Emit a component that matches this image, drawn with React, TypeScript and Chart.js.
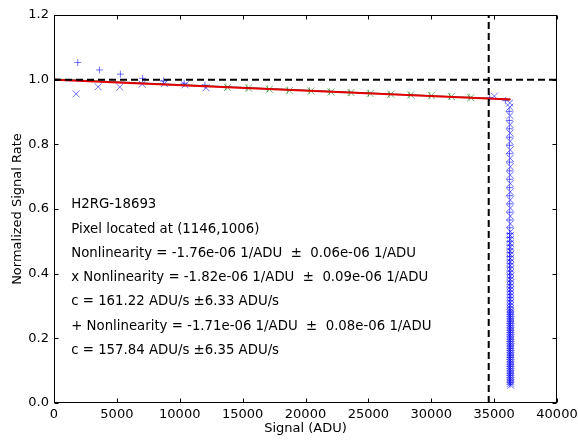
import { useEffect, useRef } from 'react';
import { Chart, registerables } from 'chart.js';
Chart.register(...registerables);

// ---- data ----
const xTicks = [0, 5000, 10000, 15000, 20000, 25000, 30000, 35000, 40000];
const yTicks = [0, 0.2, 0.4, 0.6, 0.8, 1.0, 1.2];

// 'x' marker series (signal ADU, normalized rate) before saturation
const xSignal = [1760, 3510, 5230, 7010, 8780, 10420, 12090, 13800, 15470, 17120, 18710, 20430, 22020, 23610, 25140, 26780, 28370, 30010, 31600, 33140, 35020, 36240];
const xRate = [0.956, 0.978, 0.977, 0.986, 0.988, 0.984, 0.975, 0.976, 0.974, 0.970, 0.966, 0.965, 0.962, 0.960, 0.957, 0.955, 0.953, 0.951, 0.948, 0.944, 0.949, 0.928];

// '+' marker series before saturation
const pSignal = [1890, 3610, 5280, 7050, 8700, 10350, 12000, 13670, 15340, 16990, 18580, 20300, 21890, 23480, 25010, 26650, 28240, 29880, 31470, 33010, 34650, 35900];
const pRate = [1.053, 1.030, 1.017, 1.004, 0.996, 0.989, 0.983, 0.978, 0.975, 0.972, 0.968, 0.966, 0.963, 0.960, 0.958, 0.955, 0.953, 0.951, 0.948, 0.946, 0.945, 0.935];

// saturated column ('x' markers)
const xSatSignal = [36250, 36260, 36265, 36270, 36270, 36275, 36275, 36280, 36280, 36280, 36285, 36285, 36285, 36290, 36290,
  36290, 36290, 36295, 36295, 36295, 36295, 36300, 36300, 36300, 36300, 36300, 36300, 36305, 36305, 36305, 36305, 36305, 36305, 36305, 36305, 36305, 36305,
  36305, 36305, 36305, 36310, 36310, 36310, 36310, 36310, 36310, 36310, 36310, 36310, 36310, 36310, 36310, 36310, 36310, 36310, 36310, 36310, 36310, 36310, 36310, 36310, 36310, 36310, 36310, 36310, 36310, 36310, 36310, 36310, 36310, 36310, 36310];
const xSatRate = [0.915, 0.889, 0.861, 0.835, 0.809, 0.783, 0.757, 0.731, 0.705, 0.679, 0.653, 0.628, 0.603, 0.578, 0.554,
  0.530, 0.518, 0.506, 0.494, 0.482, 0.470, 0.459, 0.447, 0.436, 0.425, 0.414, 0.403, 0.392, 0.382, 0.371, 0.361, 0.351, 0.341, 0.331, 0.321, 0.311, 0.302,
  0.292, 0.285, 0.278, 0.271, 0.264, 0.257, 0.250, 0.243, 0.236, 0.229, 0.222, 0.215, 0.208, 0.201, 0.194, 0.187, 0.180, 0.173, 0.166, 0.159, 0.152, 0.145, 0.138, 0.131, 0.124, 0.117, 0.110, 0.103, 0.096, 0.089, 0.082, 0.075, 0.068, 0.061, 0.055];

// saturated column ('+' markers)
const pSatSignal = [36200, 36210, 36215, 36220, 36220, 36225, 36225, 36230, 36230, 36230, 36235, 36235, 36235, 36240, 36240,
  36240, 36240, 36245, 36245, 36245, 36245, 36250, 36250, 36250, 36250, 36250, 36250, 36255, 36255, 36255, 36255, 36255, 36255, 36255, 36255, 36255, 36255,
  36255, 36255, 36260, 36260, 36260, 36260, 36260, 36260, 36260, 36260, 36260, 36260, 36260, 36260, 36260, 36260, 36260, 36260, 36260, 36260, 36260, 36260, 36260, 36260, 36260, 36260, 36260, 36260, 36260, 36260, 36260, 36260, 36260, 36260];
const pSatRate = [0.902, 0.874, 0.848, 0.822, 0.797, 0.771, 0.745, 0.718, 0.692, 0.666, 0.641, 0.616, 0.590, 0.566, 0.542,
  0.524, 0.512, 0.500, 0.488, 0.476, 0.465, 0.453, 0.442, 0.431, 0.420, 0.408, 0.398, 0.387, 0.377, 0.366, 0.356, 0.346, 0.336, 0.326, 0.316, 0.306, 0.297,
  0.288, 0.281, 0.274, 0.267, 0.260, 0.253, 0.246, 0.239, 0.232, 0.225, 0.218, 0.211, 0.204, 0.197, 0.190, 0.183, 0.176, 0.169, 0.162, 0.155, 0.148, 0.141, 0.134, 0.127, 0.120, 0.113, 0.106, 0.099, 0.092, 0.085, 0.078, 0.071, 0.064, 0.058];

// fit range and lines
const fitMin = 13000;
const saturationSignal = 34570;
const redFitSignal = [0, 36300];
const redFitRate = [1.0, 0.939];
const darkFitSignal = [0, 36300];
const darkFitRate = [1.002, 0.9395];

const annotationLines = [
  'H2RG-18693',
  'Pixel located at (1146,1006)',
  'Nonlinearity = -1.76e-06 1/ADU  \u00b1  0.06e-06 1/ADU',
  'x Nonlinearity = -1.82e-06 1/ADU  \u00b1  0.09e-06 1/ADU',
  'c = 161.22 ADU/s \u00b16.33 ADU/s',
  '+ Nonlinearity = -1.71e-06 1/ADU  \u00b1  0.08e-06 1/ADU',
  'c = 157.84 ADU/s \u00b16.35 ADU/s',
];
const annotationY = [0.613, 0.538, 0.463, 0.388, 0.313, 0.238, 0.163];
const annotationX = 1370;

const BLUE = 'rgba(0,0,255,0.55)';
const BLUE_SAT = 'rgba(0,0,255,0.6)';
const GREEN = 'rgba(0,128,0,0.55)';
const FONT = '"DejaVu Sans", sans-serif';

function pts(xs: number[], ys: number[]) {
  return xs.map((x, i) => ({ x, y: ys[i] }));
}
function colorsFor(xs: number[]) {
  return xs.map((x) => (x >= fitMin && x <= saturationSignal ? GREEN : BLUE));
}

const framePlugin = {
  id: 'frameTicksText',
  afterDraw(chart: any) {
    const { ctx, chartArea: a, scales } = chart;
    ctx.save();
    ctx.strokeStyle = '#000';
    ctx.lineWidth = 1;
    const L = Math.round(a.left) + 0.5;
    const R = Math.round(a.right) - 0.5;
    const T = Math.round(a.top) + 0.5;
    const B = Math.round(a.bottom) - 0.5;
    ctx.strokeRect(L, T, R - L, B - T);
    ctx.beginPath();
    for (const t of xTicks) {
      const px = Math.round(scales.x.getPixelForValue(t)) + 0.5;
      ctx.moveTo(px, B); ctx.lineTo(px, B - 4);
      ctx.moveTo(px, T); ctx.lineTo(px, T + 4);
    }
    for (const t of yTicks) {
      const py = Math.round(scales.y.getPixelForValue(t)) + 0.5;
      ctx.moveTo(L, py); ctx.lineTo(L + 4, py);
      ctx.moveTo(R, py); ctx.lineTo(R - 4, py);
    }
    ctx.stroke();
    ctx.fillStyle = '#000';
    ctx.font = '13.3px ' + FONT;
    ctx.textBaseline = 'middle';
    ctx.textAlign = 'left';
    const tx = scales.x.getPixelForValue(annotationX);
    annotationLines.forEach((s, i) => {
      ctx.fillText(s, tx, scales.y.getPixelForValue(annotationY[i]));
    });
    ctx.restore();
  },
};

export default function App() {
  const ref = useRef<HTMLCanvasElement>(null);
  useEffect(() => {
    Chart.defaults.font.family = FONT;
    Chart.defaults.font.size = 13;
    Chart.defaults.color = '#000';
    const chart = new Chart(ref.current!, {
      type: 'scatter',
      data: {
        datasets: [
          {
            type: 'line', label: 'h', data: [{ x: 0, y: 1 }, { x: 40000, y: 1 }],
            borderColor: '#000', borderWidth: 2, borderDash: [7, 4], pointRadius: 0, order: 1,
          } as any,
          {
            type: 'line', label: 'v', data: [{ x: saturationSignal, y: 0 }, { x: saturationSignal, y: 1.2 }],
            borderColor: '#000', borderWidth: 2, borderDash: [7, 4], pointRadius: 0, order: 1,
          } as any,
          {
            type: 'line', label: 'red', data: pts(redFitSignal, redFitRate),
            borderColor: '#e00000', borderWidth: 2, pointRadius: 0, order: 2,
          } as any,
          {
            type: 'line', label: 'dark', data: pts(darkFitSignal, darkFitRate),
            borderColor: 'rgba(40,40,40,0.8)', borderWidth: 1, pointRadius: 0, order: 3,
          } as any,
          {
            label: 'x', data: pts(xSignal, xRate), pointStyle: 'crossRot', pointRadius: 5,
            borderColor: colorsFor(xSignal), backgroundColor: colorsFor(xSignal), borderWidth: 1, order: 4,
          },
          {
            label: '+', data: pts(pSignal, pRate), pointStyle: 'cross', pointRadius: 3.5,
            borderColor: colorsFor(pSignal), backgroundColor: colorsFor(pSignal), borderWidth: 1, order: 4,
          },
          {
            label: 'xs', data: pts(xSatSignal, xSatRate), pointStyle: 'crossRot', pointRadius: 5,
            borderColor: BLUE_SAT, backgroundColor: BLUE_SAT, borderWidth: 1, order: 5,
          },
          {
            label: 'ps', data: pts(pSatSignal, pSatRate), pointStyle: 'cross', pointRadius: 3.5,
            borderColor: BLUE_SAT, backgroundColor: BLUE_SAT, borderWidth: 1, order: 5,
          },
        ],
      },
      options: {
        animation: false,
        responsive: true,
        maintainAspectRatio: false,
        events: [],
        layout: { padding: { top: 15, right: 21, left: 0, bottom: 0 } },
        plugins: { legend: { display: false }, tooltip: { enabled: false } },
        scales: {
          x: {
            type: 'linear', min: 0, max: 40000,
            afterBuildTicks: (s: any) => { s.ticks = xTicks.map((v) => ({ value: v })); },
            afterFit: (s: any) => { s.height = 39; s.paddingLeft = 0; s.paddingRight = 0; },
            grid: { display: false, drawTicks: false }, border: { display: false },
            ticks: { padding: 4, maxRotation: 0, autoSkip: false, callback: (v: any) => String(v), font: { size: 13 } },
            title: { display: true, text: 'Signal (ADU)', padding: { top: 0, bottom: 6 }, font: { size: 13 } },
          },
          y: {
            type: 'linear', min: 0, max: 1.2,
            afterBuildTicks: (s: any) => { s.ticks = yTicks.map((v) => ({ value: v })); },
            afterFit: (s: any) => { s.width = 54; s.paddingTop = 0; s.paddingBottom = 0; },
            grid: { display: false, drawTicks: false }, border: { display: false },
            ticks: { padding: 5, autoSkip: false, callback: (v: any) => Number(v).toFixed(1), font: { size: 13 } },
            title: { display: true, text: 'Normalized Signal Rate', padding: { top: 10, bottom: 0 }, font: { size: 13 } },
          },
        },
      },
      plugins: [framePlugin],
    } as any);
    return () => chart.destroy();
  }, []);
  return (
    <div style={{ position: 'absolute', left: 0, top: 0, width: 578, height: 442, background: '#fff' }}>
      <canvas ref={ref} />
    </div>
  );
}
